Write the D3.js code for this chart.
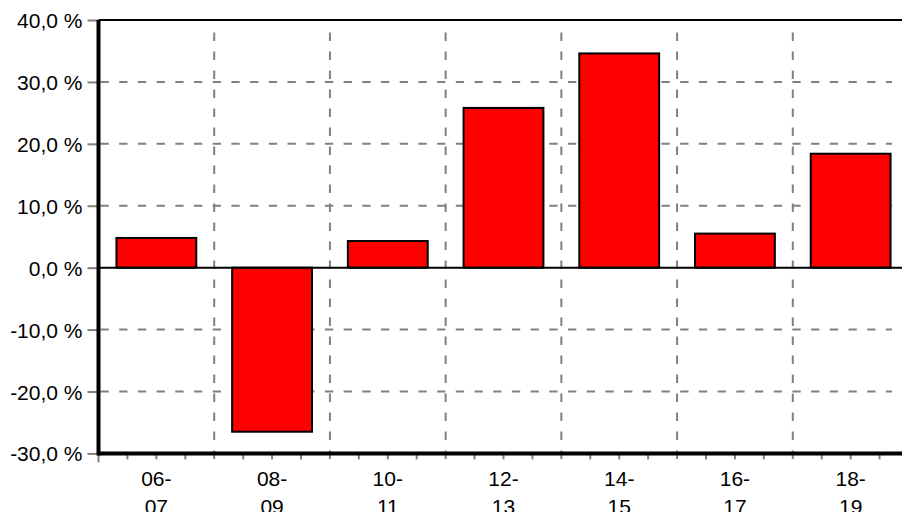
<!DOCTYPE html>
<html>
<head>
<meta charset="utf-8">
<script src="https://cdn.jsdelivr.net/npm/d3@7"></script>
<style>
body { margin: 0; background: #fff; overflow: hidden; }
</style>
</head>
<body>
<div id="chart"></div>
<script>
var categories = ["06-07", "08-09", "10-11", "12-13", "14-15", "16-17", "18-19"];
var values = [4.8, -26.5, 4.3, 25.8, 34.6, 5.5, 18.4];
var yTicks = [-30, -20, -10, 0, 10, 20, 30, 40];

function init() {

    var w = 902;
    var h = 512;
    var left = 98.5;
    var top = 20;
    var plotW = 810;
    var plotH = 433.4;
    var bottom = top + plotH;
    var font = "'Liberation Sans', Arial, sans-serif";

    var svg = d3.select("#chart")
                .append("svg")
                .attr("width", w)
                .attr("height", h);

    var xScale = d3.scaleBand()
                   .domain(categories)
                   .range([left, left + plotW]);

    // bars sit centred in each band
    var barScale = d3.scaleBand()
                     .domain(categories)
                     .range([left, left + plotW])
                     .paddingInner(0.31)
                     .paddingOuter(0.155);

    var yScale = d3.scaleLinear()
                   .domain([-30, 40])
                   .range([bottom, top]);

    var locale = d3.formatLocale({decimal: ",", thousands: " ", grouping: [3], currency: ["", ""], minus: "-"});
    var fmt = locale.format(".1f");

    var grey = "#808080";

    // horizontal grid
    svg.append("g")
       .selectAll("line")
       .data(yTicks.filter(function(d) { return d != 0 && d != -30 && d != 40; }))
       .enter()
       .append("line")
       .attr("x1", left + 2)
       .attr("x2", w - 10)
       .attr("y1", function(d) { return yScale(d); })
       .attr("y2", function(d) { return yScale(d); })
       .attr("stroke", grey)
       .attr("stroke-width", 2)
       .attr("stroke-dasharray", "8.3,10.4");

    // vertical grid at band edges
    var edges = categories.slice(1).map(function(c) { return xScale(c); });
    svg.append("g")
       .selectAll("line")
       .data(edges)
       .enter()
       .append("line")
       .attr("x1", function(d) { return d; })
       .attr("x2", function(d) { return d; })
       .attr("y1", top + 2)
       .attr("y2", bottom + 10)
       .attr("stroke", grey)
       .attr("stroke-width", 2)
       .attr("stroke-dasharray", "0,10.5,8.5,0");

    // small ticks on the x axis
    var minor = [];
    categories.forEach(function(c) {
        for (var k = 1; k < 4; k++) {
            minor.push(xScale(c) + xScale.bandwidth() * k / 4);
        }
    });
    svg.append("g")
       .selectAll("line")
       .data(minor)
       .enter()
       .append("line")
       .attr("x1", function(d) { return d; })
       .attr("x2", function(d) { return d; })
       .attr("y1", bottom)
       .attr("y2", bottom + 6)
       .attr("stroke", grey)
       .attr("stroke-width", 2);

    svg.append("line")
       .attr("x1", left)
       .attr("x2", left)
       .attr("y1", bottom)
       .attr("y2", bottom + 9)
       .attr("stroke", grey)
       .attr("stroke-width", 2);

    // y axis ticks + labels
    var yAxis = d3.axisLeft(yScale)
                  .tickValues(yTicks)
                  .tickSize(10)
                  .tickPadding(5)
                  .tickFormat(function(d) { return fmt(d) + " %"; });

    var gy = svg.append("g")
                .attr("transform", "translate(" + (left - 1) + ",0)")
                .call(yAxis);
    gy.select(".domain").remove();
    gy.selectAll(".tick line").attr("stroke", grey).attr("stroke-width", 2);
    gy.selectAll(".tick text")
      .style("font-size", "21px")
      .style("font-family", font)
      .attr("fill", "#000")
      .attr("dy", "0.36em");

    // bars
    svg.append("g")
       .selectAll("rect")
       .data(values)
       .enter()
       .append("rect")
       .attr("x", function(d, i) { return barScale(categories[i]); })
       .attr("y", function(d) { return yScale(Math.max(0, d)); })
       .attr("width", barScale.bandwidth())
       .attr("height", function(d) { return Math.abs(yScale(d) - yScale(0)); })
       .attr("fill", "#ff0000")
       .attr("stroke", "#000")
       .attr("stroke-width", 2);

    // zero line, top border, axes
    svg.append("line")
       .attr("x1", left).attr("x2", w)
       .attr("y1", yScale(0)).attr("y2", yScale(0))
       .attr("stroke", "#000").attr("stroke-width", 2);

    svg.append("line")
       .attr("x1", left).attr("x2", w)
       .attr("y1", top).attr("y2", top)
       .attr("stroke", "#000").attr("stroke-width", 2);

    svg.append("line")
       .attr("x1", left).attr("x2", w)
       .attr("y1", bottom).attr("y2", bottom)
       .attr("stroke", "#000").attr("stroke-width", 4);

    svg.append("line")
       .attr("x1", left).attr("x2", left)
       .attr("y1", top).attr("y2", bottom + 2)
       .attr("stroke", "#000").attr("stroke-width", 4);

    // category labels on two lines
    var labels = svg.append("g")
                    .selectAll("text")
                    .data(categories)
                    .enter()
                    .append("text")
                    .style("font-size", "21px")
                    .style("font-family", font)
                    .attr("text-anchor", "middle")
                    .attr("fill", "#000");
    labels.append("tspan")
          .attr("x", function(d) { return xScale(d) + xScale.bandwidth() / 2; })
          .attr("y", bottom + 33)
          .text(function(d) { return d.split("-")[0] + "-"; });
    labels.append("tspan")
          .attr("x", function(d) { return xScale(d) + xScale.bandwidth() / 2; })
          .attr("y", bottom + 61)
          .text(function(d) { return d.split("-")[1]; });
}

window.onload = init;
</script>
</body>
</html>
